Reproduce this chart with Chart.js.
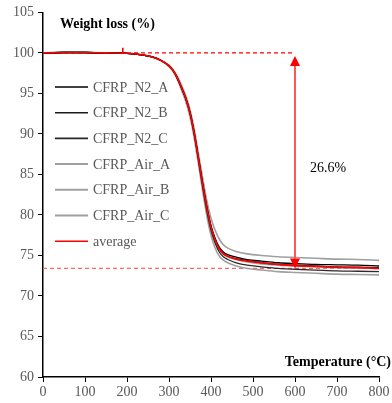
<!DOCTYPE html>
<html><head><meta charset="utf-8">
<script src="https://cdn.jsdelivr.net/npm/chart.js@4/dist/chart.umd.min.js"></script>
<style>html,body{margin:0;padding:0;background:#fff}canvas{display:block}</style>
</head><body>
<canvas id="c" width="392" height="403"></canvas>
<script>
const temps = [0,50,100,150,200,230,260,280,300,310,320,330,340,350,360,370,380,390,400,410,420,430,440,460,486,520,560,600,650,700,750,800];
const n2A  = [100.0,100.05,100.05,100.0,99.95,99.8,99.5,99.1,98.4,97.8,96.9,95.7,94.4,92.7,90.2,87.1,84.0,81.1,78.7,77.1,76.0,75.4,75.1,74.8,74.5,74.3,74.1,74.0,73.9,73.85,73.8,73.7];
const n2B  = [100.0,100.05,100.05,100.0,99.95,99.8,99.5,99.1,98.4,97.8,96.9,95.7,94.4,92.6,90.1,87.0,83.8,80.9,78.5,76.9,75.8,75.2,74.9,74.6,74.35,74.1,73.9,73.8,73.7,73.6,73.55,73.5];
const n2C  = [100.0,100.05,100.05,100.0,99.95,99.8,99.5,99.1,98.4,97.8,96.8,95.6,94.3,92.5,89.9,86.8,83.5,80.5,78.1,76.5,75.4,74.8,74.5,74.1,73.8,73.6,73.4,73.3,73.2,73.1,73.05,73.0];
const airA = [100.0,100.1,100.05,100.0,99.95,99.8,99.5,99.1,98.5,97.9,97.1,96.0,94.7,93.0,90.6,87.6,84.6,81.8,79.6,78.1,77.0,76.3,75.9,75.5,75.2,75.0,74.85,74.75,74.65,74.55,74.5,74.4];
const airB = [100.0,100.05,100.05,100.0,99.95,99.8,99.5,99.1,98.4,97.8,96.9,95.7,94.4,92.6,90.0,86.9,83.7,80.8,78.4,76.8,75.7,75.1,74.8,74.5,74.2,73.95,73.8,73.7,73.6,73.5,73.45,73.4];
const airC = [100.0,100.05,100.05,100.0,99.95,99.8,99.5,99.1,98.3,97.7,96.7,95.4,94.0,92.1,89.5,86.3,83.0,79.9,77.5,75.9,74.9,74.4,74.1,73.7,73.4,73.2,73.0,72.9,72.8,72.7,72.65,72.6];
const avg  = [100.0,100.05,100.05,100.0,99.95,99.8,99.5,99.1,98.4,97.8,96.9,95.7,94.4,92.6,90.1,87.0,83.8,80.9,78.5,76.9,75.8,75.2,74.9,74.55,74.3,74.1,73.9,73.75,73.65,73.55,73.5,73.4];
const seriesNames = ["CFRP_N2_A","CFRP_N2_B","CFRP_N2_C","CFRP_Air_A","CFRP_Air_B","CFRP_Air_C","average"];
const xTicks = [0,100,200,300,400,500,600,700,800];
const yTicks = [60,65,70,75,80,85,90,95,100,105];
const topLevel = 100;
const residue = 73.4;
const arrowT = 600;
const lossLabel = "26.6%";
const yTitle = "Weight loss (%)";
const xTitle = "Temperature (°C)";

const colors = ["#000000","#1a1a1a","#2a2a2a","#a0a0a0","#a0a0a0","#a0a0a0","#ff0000"];
const widths = [1.3,1.3,1.3,1.6,1.6,1.6,1.6];
const orders = [1,1,1,2,2,2,0];
const all = [n2A,n2B,n2C,airA,airB,airC,avg];
const pts = arr => temps.map((t,i)=>({x:t,y:arr[i]}));

const datasets = [
  {label:"top", order:3, data:[{x:0,y:topLevel},{x:arrowT,y:topLevel}], borderColor:"#ff0000", borderWidth:1.3, borderDash:[4,3], pointRadius:0},
  {label:"bottom", order:3, data:[{x:0,y:residue},{x:800,y:residue}], borderColor:"#ff6666", borderWidth:1.3, borderDash:[4,3], pointRadius:0},
  {label:"tick", order:0, data:[{x:190,y:topLevel},{x:190,y:100.65}], borderColor:"#ff0000", borderWidth:1.6, pointRadius:0}
];
all.forEach((arr,i)=>{
  datasets.push({label:seriesNames[i], order:orders[i], data:pts(arr), borderColor:colors[i], borderWidth:widths[i], pointRadius:0, cubicInterpolationMode:"monotone"});
});

const serif = "'Liberation Serif', 'Times New Roman', serif";

const decor = {
  id:"decor",
  afterDatasetsDraw(chart){
    const ctx = chart.ctx, xs = chart.scales.x, ys = chart.scales.y;
    ctx.save();
    const ax = xs.getPixelForValue(arrowT);
    const yTop = ys.getPixelForValue(topLevel), yBot = ys.getPixelForValue(residue);
    ctx.strokeStyle = "#ff5555"; ctx.lineWidth = 2;
    ctx.beginPath(); ctx.moveTo(ax, yTop+10); ctx.lineTo(ax, yBot-10); ctx.stroke();
    ctx.fillStyle = "#ff0000";
    ctx.beginPath(); ctx.moveTo(ax, yTop+3); ctx.lineTo(ax-5, yTop+13); ctx.lineTo(ax+5, yTop+13); ctx.closePath(); ctx.fill();
    ctx.beginPath(); ctx.moveTo(ax, yBot); ctx.lineTo(ax-5, yBot-10); ctx.lineTo(ax+5, yBot-10); ctx.closePath(); ctx.fill();
    ctx.fillStyle = "#000"; ctx.font = "14px " + serif; ctx.textAlign = "left"; ctx.textBaseline = "middle";
    ctx.fillText(lossLabel, xs.getPixelForValue(636), ys.getPixelForValue(85.8));
    const lx0 = 55, lx1 = 88, ly0 = 87, step = 25.7;
    seriesNames.forEach((n,i)=>{
      const y = ly0 + i*step;
      ctx.strokeStyle = colors[i]; ctx.lineWidth = i>=3&&i<6 ? 2 : 1.6;
      ctx.beginPath(); ctx.moveTo(lx0,y); ctx.lineTo(lx1,y); ctx.stroke();
      ctx.fillStyle = "#595959"; ctx.font = "14px " + serif; ctx.textAlign="left"; ctx.textBaseline="middle";
      ctx.fillText(n, 93, y+1);
    });
    ctx.fillStyle = "#000"; ctx.font = "bold 14px " + serif;
    ctx.textAlign = "left"; ctx.fillText(yTitle, 60, 24);
    ctx.textAlign = "right"; ctx.fillText(xTitle, 391, 362);
    ctx.restore();
  }
};

new Chart(document.getElementById("c"), {
  type:"line",
  data:{datasets},
  options:{
    responsive:false, animation:false, events:[],
    layout:{padding:{top:12, right:13, left:0, bottom:0}},
    plugins:{legend:{display:false}, tooltip:{enabled:false}},
    scales:{
      x:{type:"linear", min:0, max:800,
        afterBuildTicks: s => { s.ticks = xTicks.map(v=>({value:v})); },
        afterFit: s => { s.height = 26; },
        grid:{drawOnChartArea:false, drawTicks:true, tickLength:5, color:"#000"},
        border:{color:"#000", width:1.5},
        ticks:{color:"#595959", font:{family:serif, size:14}, padding:2, maxRotation:0}
      },
      y:{min:60, max:105,
        afterBuildTicks: s => { s.ticks = yTicks.map(v=>({value:v})); },
        afterFit: s => { s.width = 43; },
        grid:{drawOnChartArea:false, drawTicks:true, tickLength:5, color:"#000"},
        border:{color:"#000", width:1.5},
        ticks:{color:"#595959", font:{family:serif, size:14}, padding:4}
      }
    }
  },
  plugins:[decor]
});
</script>
</body></html>
